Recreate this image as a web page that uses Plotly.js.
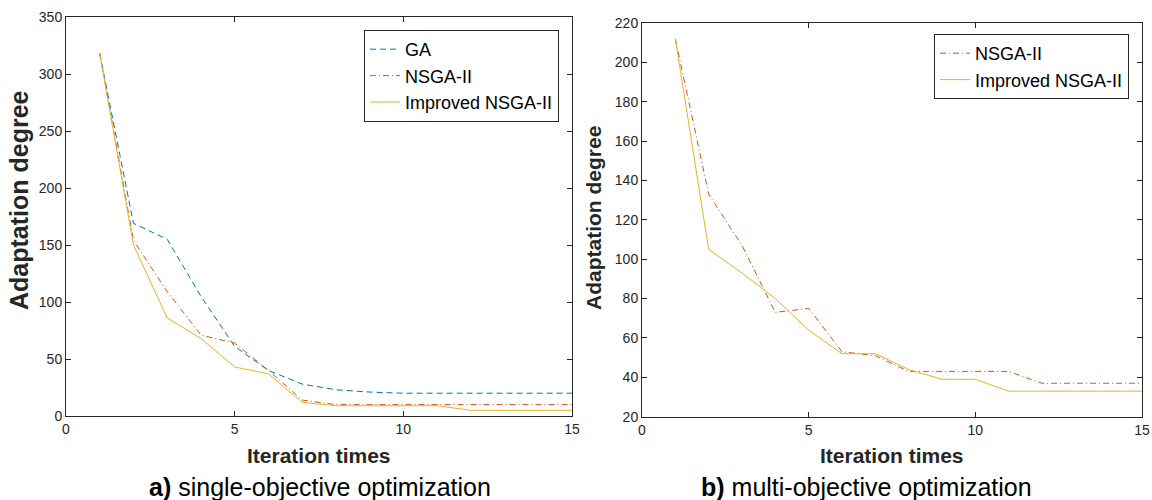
<!DOCTYPE html>
<html>
<head>
<meta charset="utf-8">
<script src="https://cdn.plot.ly/plotly-3.0.1.min.js"></script>
<style>html,body{margin:0;padding:0;background:#fff;}#chart{width:1152px;height:500px;}</style>
</head>
<body>
<div id="chart"></div>
<script>
// Data
const iterations = [1,2,3,4,5,6,7,8,9,10,11,12,13,14,15];
// a) single-objective optimization
const gaSingle       = [318,169,155,105,61,40,28,23,21,20,20,20,20,20,20];
const nsgaSingle     = [318,154,109,71,64,40,14,10,10,10,10,10,10,10,10];
const improvedSingle = [318,150,86,68,43,37,12,9,9,9,9,5,5,5,5];
// b) multi-objective optimization
const nsgaMulti      = [212,133,107,73,75,53,51,43,43,43,43,37,37,37,37];
const improvedMulti  = [212,105,93,80,64,52,52,44,39,39,33,33,33,33,33];

const xTicks = [0,5,10,15];
const ySingleTicks = [0,50,100,150,200,250,300,350];
const yMultiTicks = [20,40,60,80,100,120,140,160,180,200,220];

const seriesNames = {ga:'GA', nsga:'NSGA-II', imp:'Improved NSGA-II'};
const captionA = '<b>a)</b> single-objective optimization';
const captionB = '<b>b)</b> multi-objective optimization';
const xTitle = '<b>Iteration times</b>';
const yTitle = '<b>Adaptation degree</b>';

const C_BLUE = '#0072BD', C_RED = '#D95319', C_YEL = '#EDB120';
const AX = '#262626';
const FONT = 'Arial, "Liberation Sans", Helvetica, sans-serif';

const traces = [
  {x: iterations, y: gaSingle, name: seriesNames.ga, mode:'lines', xaxis:'x', yaxis:'y', legend:'legend',
   line:{color:C_BLUE, width:1, dash:'6px,4px'}},
  {x: iterations, y: nsgaSingle, name: seriesNames.nsga, mode:'lines', xaxis:'x', yaxis:'y', legend:'legend',
   line:{color:C_RED, width:1, dash:'6px,3px,1px,3px'}},
  {x: iterations, y: improvedSingle, name: seriesNames.imp, mode:'lines', xaxis:'x', yaxis:'y', legend:'legend',
   line:{color:C_YEL, width:1}},
  {x: iterations, y: nsgaMulti, name: seriesNames.nsga, mode:'lines', xaxis:'x2', yaxis:'y2', legend:'legend2',
   line:{color:C_RED, width:1, dash:'6px,3px,1px,3px'}},
  {x: iterations, y: improvedMulti, name: seriesNames.imp, mode:'lines', xaxis:'x2', yaxis:'y2', legend:'legend2',
   line:{color:C_YEL, width:1}}
];

function axis(extra){
  return Object.assign({
    showline:true, linecolor:AX, linewidth:1, mirror:'ticks',
    ticks:'inside', ticklen:5, tickcolor:AX, tickwidth:1,
    showgrid:false, zeroline:false, tickmode:'array',
    tickfont:{family:FONT, size:14, color:AX}, fixedrange:true
  }, extra);
}

const legendStyle = {
  bgcolor:'#ffffff', bordercolor:AX, borderwidth:1,
  font:{family:FONT, size:18, color:'#000'},
  xref:'paper', yref:'paper', xanchor:'right', yanchor:'top',
  tracegroupgap:0, itemwidth:30
};

const layout = {
  width:1152, height:500,
  margin:{l:0, r:0, t:0, b:0},
  paper_bgcolor:'#fff', plot_bgcolor:'#fff',
  showlegend:true,
  xaxis: axis({domain:[66/1152, 572/1152], range:[0,15], tickvals:xTicks, anchor:'y'}),
  yaxis: axis({domain:[1-416/500, 1-17/500], range:[0,350], tickvals:ySingleTicks, anchor:'x'}),
  xaxis2: axis({domain:[642/1152, 1142/1152], range:[0,15], tickvals:xTicks, anchor:'y2'}),
  yaxis2: axis({domain:[1-416.7/500, 1-23/500], range:[20,220], tickvals:yMultiTicks, anchor:'x2'}),
  legend: Object.assign({}, legendStyle, {x:559/1152, y:1-30/500}),
  legend2: Object.assign({}, legendStyle, {x:1129/1152, y:1-34/500}),
  annotations: [
    {text:xTitle, xref:'paper', yref:'paper', x:319/1152, y:1-455/500, showarrow:false,
     xanchor:'center', yanchor:'middle', font:{family:FONT, size:21, color:AX}},
    {text:xTitle, xref:'paper', yref:'paper', x:892/1152, y:1-455/500, showarrow:false,
     xanchor:'center', yanchor:'middle', font:{family:FONT, size:21, color:AX}},
    {text:yTitle, xref:'paper', yref:'paper', x:19/1152, y:1-200/500, showarrow:false, textangle:-90,
     xanchor:'center', yanchor:'middle', font:{family:FONT, size:25, color:AX}},
    {text:yTitle, xref:'paper', yref:'paper', x:594/1152, y:1-218/500, showarrow:false, textangle:-90,
     xanchor:'center', yanchor:'middle', font:{family:FONT, size:21, color:AX}},
    {text:captionA, xref:'paper', yref:'paper', x:320/1152, y:1-487/500, showarrow:false,
     xanchor:'center', yanchor:'middle', font:{family:FONT, size:25, color:'#000'}},
    {text:captionB, xref:'paper', yref:'paper', x:866/1152, y:1-487/500, showarrow:false,
     xanchor:'center', yanchor:'middle', font:{family:FONT, size:25, color:'#000'}}
  ]
};

Plotly.newPlot('chart', traces, layout, {displayModeBar:false, staticPlot:true});
</script>
</body>
</html>
